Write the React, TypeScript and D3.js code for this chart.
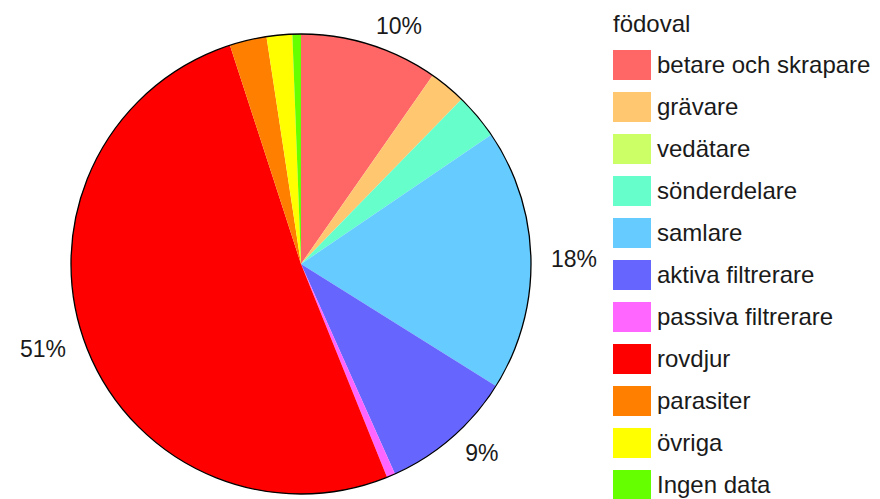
import React from "react";
import * as d3 from "d3";

const categories = [
  "betare och skrapare",
  "grävare",
  "vedätare",
  "sönderdelare",
  "samlare",
  "aktiva filtrerare",
  "passiva filtrerare",
  "rovdjur",
  "parasiter",
  "övriga",
  "Ingen data",
];
const values = [9.7, 2.6, 0, 3.2, 18.4, 9.4, 0.6, 51.1, 2.6, 1.8, 0.6];
const colors = [
  "#FF6666",
  "#FFC870",
  "#CCFF66",
  "#66FFCC",
  "#66CCFF",
  "#6666FF",
  "#FF66FF",
  "#FF0000",
  "#FF8000",
  "#FFFF00",
  "#66FF00",
];
const legendTitle = "födoval";
const labelThreshold = 9;

export default function App() {
  const W = 880;
  const H = 499;
  const cx = 301;
  const cy = 264;
  const r = 230;
  const labelR = 250;
  const font = "'Liberation Sans', Arial, Helvetica, sans-serif";

  const data = categories.map((c, i) => ({ name: c, value: values[i], color: colors[i] }));
  const pie = d3
    .pie<any>()
    .sort(null)
    .value((d: any) => d.value)
    .startAngle(0)
    .endAngle(2 * Math.PI);
  const arcs = pie(data);
  const arc = d3.arc<any>().innerRadius(0).outerRadius(r);

  const legendY = d3
    .scaleLinear()
    .domain([0, categories.length - 1])
    .range([65, 65 + 42 * (categories.length - 1)]);

  return (
    <svg
      width={W}
      height={H}
      style={{ position: "absolute", left: 0, top: 0, background: "#fff" }}
      fontFamily={font}
    >
      <g transform={`translate(${cx},${cy})`}>
        {arcs.map((a, i) =>
          a.value > 0 ? <path key={i} d={arc(a) as string} fill={a.data.color} stroke="none" /> : null
        )}
        <circle r={r} fill="none" stroke="#000" strokeWidth={1.3} />
        {arcs
          .filter((a) => a.value >= labelThreshold)
          .map((a, i) => {
            const mid = (a.startAngle + a.endAngle) / 2;
            const x = labelR * Math.sin(mid);
            const y = -labelR * Math.cos(mid);
            return (
              <text
                key={i}
                x={x}
                y={y}
                dy="0.35em"
                textAnchor={x >= 0 ? "start" : "end"}
                fontSize={23}
                fill="#1a1a1a"
              >
                {`${Math.round(a.value)}%`}
              </text>
            );
          })}
      </g>
      <g>
        <text x={613} y={32} fontSize={24} fill="#1a1a1a">
          {legendTitle}
        </text>
        {data.map((d, i) => (
          <g key={i} transform={`translate(613,${legendY(i)})`}>
            <rect x={0} y={-15} width={38} height={30} fill={d.color} />
            <text x={44} y={0} dy="0.35em" fontSize={24} fill="#1a1a1a">
              {d.name}
            </text>
          </g>
        ))}
      </g>
    </svg>
  );
}
